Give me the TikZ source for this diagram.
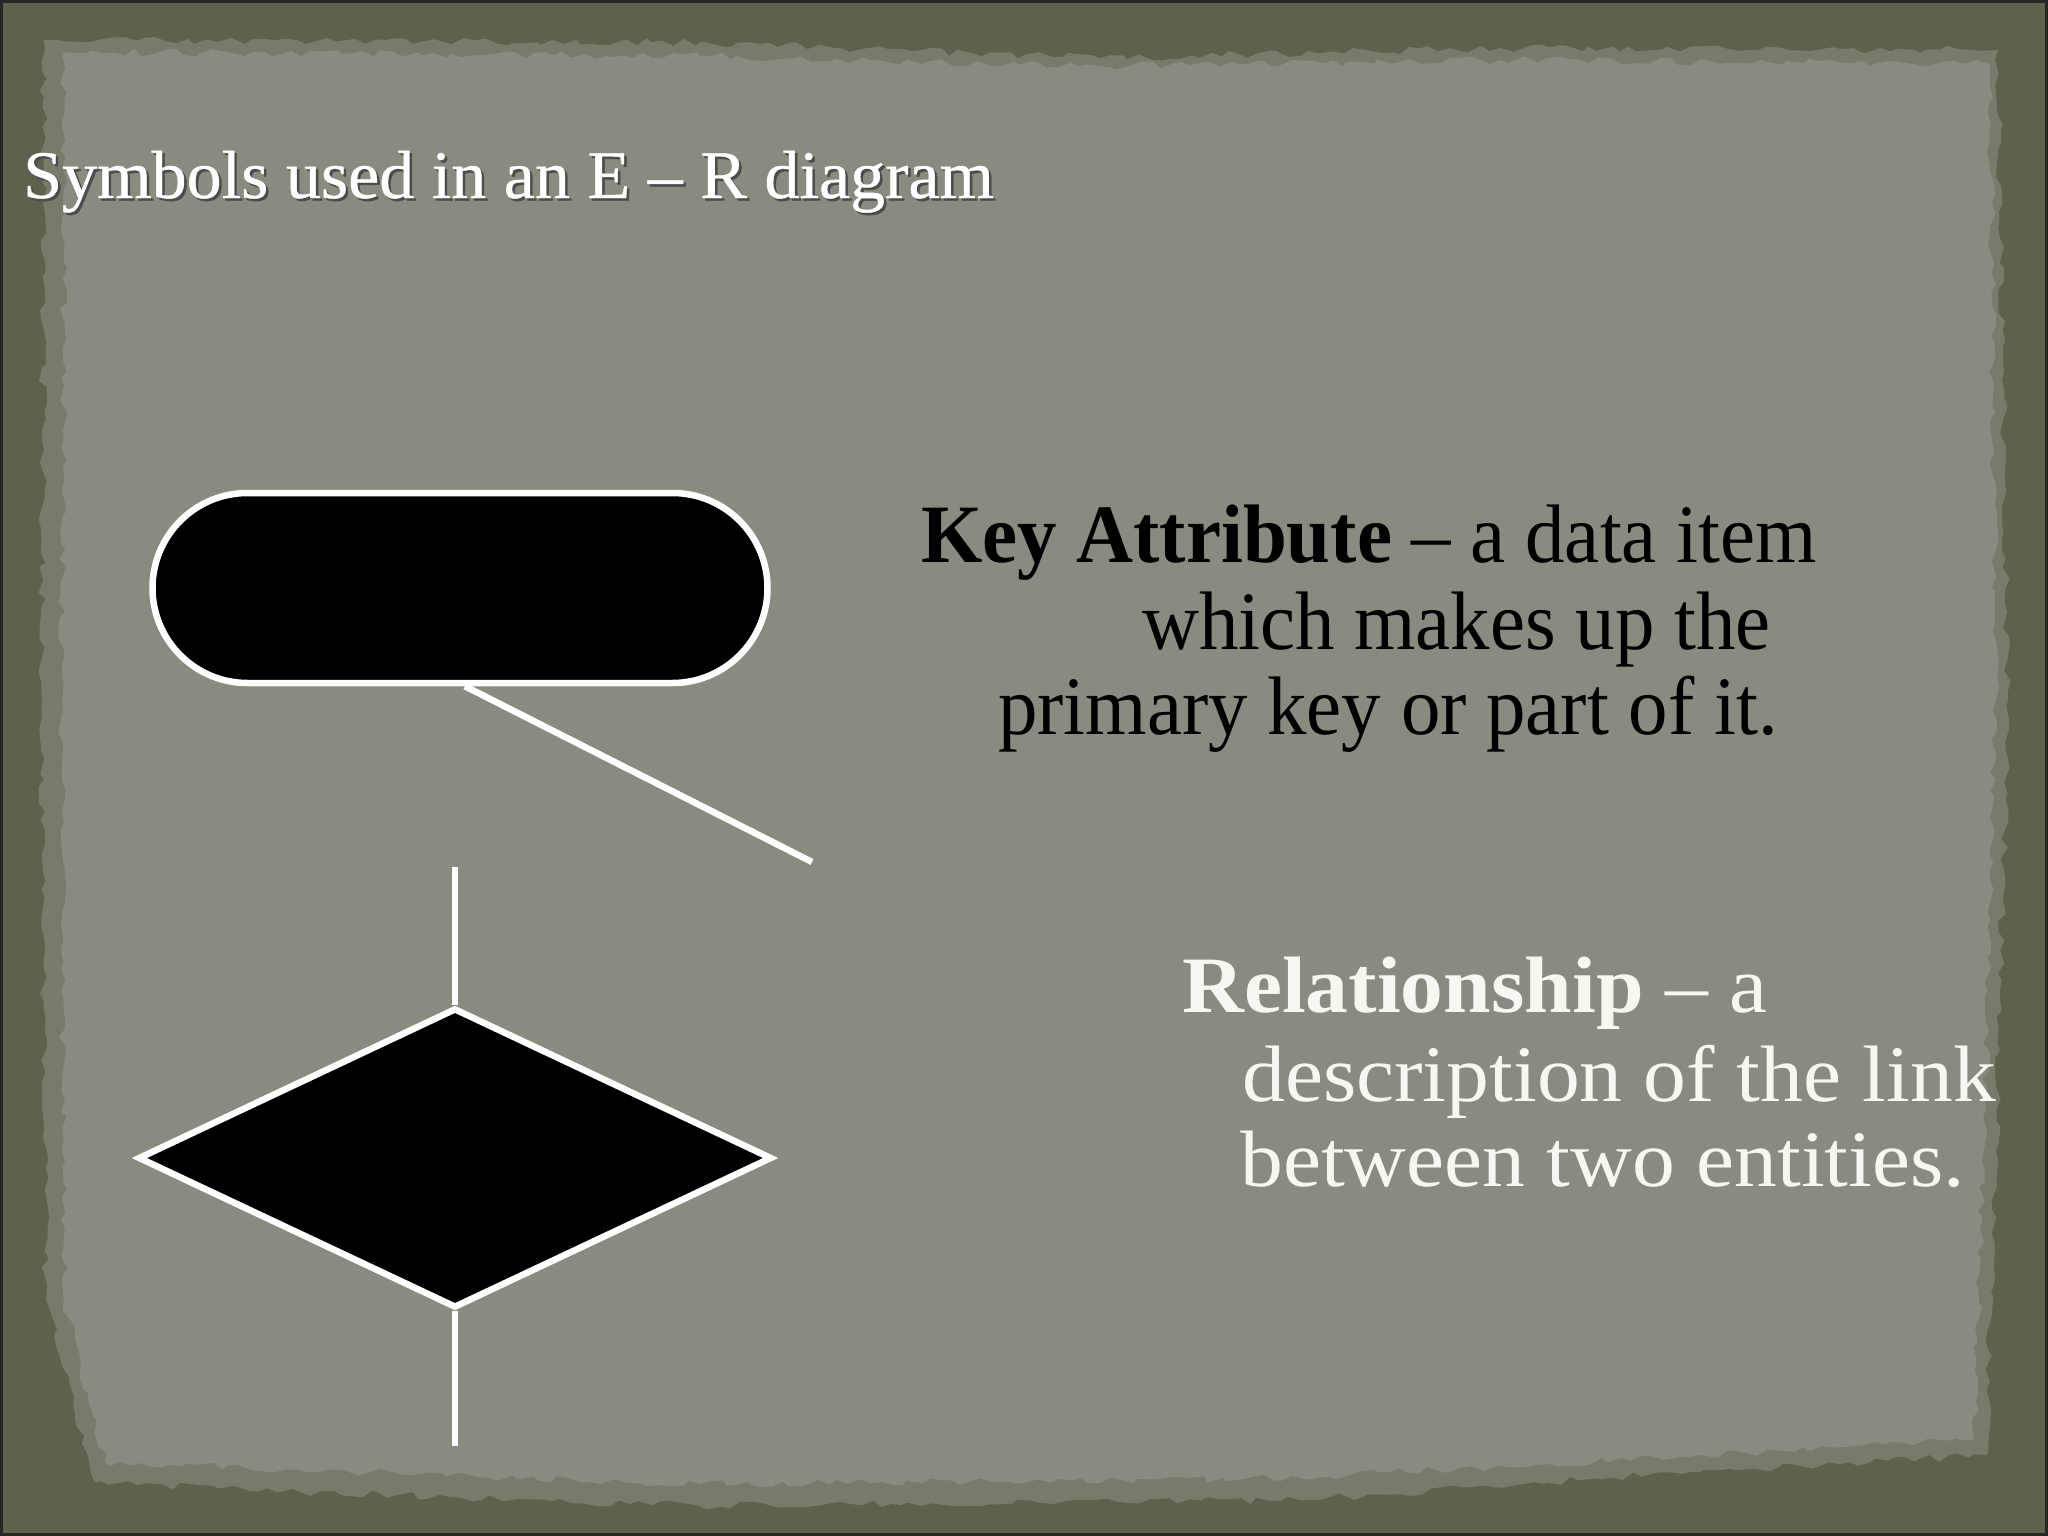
\documentclass[tikz,border=0pt]{standalone}
\usepackage{fontspec}
\usepackage{tikz}
\usetikzlibrary{shapes.geometric,decorations.pathmorphing,positioning}
\newfontfamily\titlefont[Ligatures=TeX,FakeStretch=1.03,FakeBold=0.6]{Liberation Serif}
\newfontfamily\keyfont[Ligatures=TeX,FakeStretch=0.95]{Liberation Serif}
\newfontfamily\relfont[Ligatures=TeX,FakeStretch=1.07]{Liberation Serif}
\definecolor{frameolive}{HTML}{5C624E}
\definecolor{paperedge}{HTML}{777B6B}
\definecolor{paper}{HTML}{888B7F}
\definecolor{chalk}{HTML}{F7F7F2}

\begin{document}
\begin{tikzpicture}[x=1pt,y=-1pt,
    symbol/.style={draw=white,fill=black,line width=6.5pt,inner sep=0pt},
    link/.style={draw=white,line width=6.5pt},
    keyline/.style={anchor=base west,inner sep=0pt,text=black,font=\keyfont\fontsize{83}{86}\selectfont},
    relline/.style={anchor=base west,inner sep=0pt,text=chalk,font=\relfont\fontsize{80}{86}\selectfont},
    torn/.style={decorate,decoration={random steps,segment length=10pt,amplitude=4pt}}]
    \useasboundingbox (0,0) rectangle (2048,1536);
    % frame and paper
    \fill [black!85] (0,0) rectangle (2048,1536);
    \fill [frameolive] (3,3) rectangle (2045,1533);
    \pgfmathsetseed{11}
    \fill [paperedge,torn] (44,40) -- (700,42) -- (1100,58) -- (1500,48) -- (1998,50) -- (2008,700)
        -- (1996,1150) -- (1986,1455) -- (1700,1472) -- (1300,1500) -- (700,1506) -- (300,1492)
        -- (95,1482) -- (46,1300) -- (42,700) -- cycle;
    \fill [paper,torn] (64,52) -- (700,56) -- (1100,66) -- (1500,60) -- (1990,64) -- (1996,700)
        -- (1984,1150) -- (1974,1440) -- (1700,1455) -- (1300,1478) -- (700,1484) -- (300,1470)
        -- (105,1462) -- (64,1300) -- (62,700) -- cycle;
    % title
    \node [anchor=base west,inner sep=0pt,text=white,font=\titlefont\fontsize{68}{70}\selectfont] (title) at (23,198)
        {\rlap{\hspace{2.5pt}\raisebox{-2.5pt}{\color{black!70}Symbols used in an E – R diagram}}Symbols used in an E – R diagram};
    % symbols
    \node [symbol,rectangle,rounded corners=95pt,minimum width=615pt,minimum height=190pt] (keyAttr) at (460,588) {};
    \node [symbol,diamond,minimum width=634pt,minimum height=300pt] (relSymbol) at (455,1158) {};
    \coordinate (keyEnd) at (812,862);
    \coordinate (relTop) at (455,867);
    \coordinate (relBottom) at (455,1446);
    \draw [link] ([xshift=5pt]keyAttr.south) -- (keyEnd);
    \draw [link] (relTop) -- (relSymbol.north);
    \draw [link] (relSymbol.south) -- (relBottom);
    % descriptions
    \node [keyline] (keyLineA) at (921,562) {\textbf{Key Attribute} – a data item};
    \node [keyline] (keyLineB) at (1142,649) {which makes up the};
    \node [keyline] (keyLineC) at (998,734) {primary key or part of it.};
    \node [relline] (relLineA) at (1182,1012) {\textbf{Relationship} – a};
    \node [relline] (relLineB) at (1242,1101) {description of the link};
    \node [relline] (relLineC) at (1240,1186) {between two entities.};
\end{tikzpicture}
\end{document}
